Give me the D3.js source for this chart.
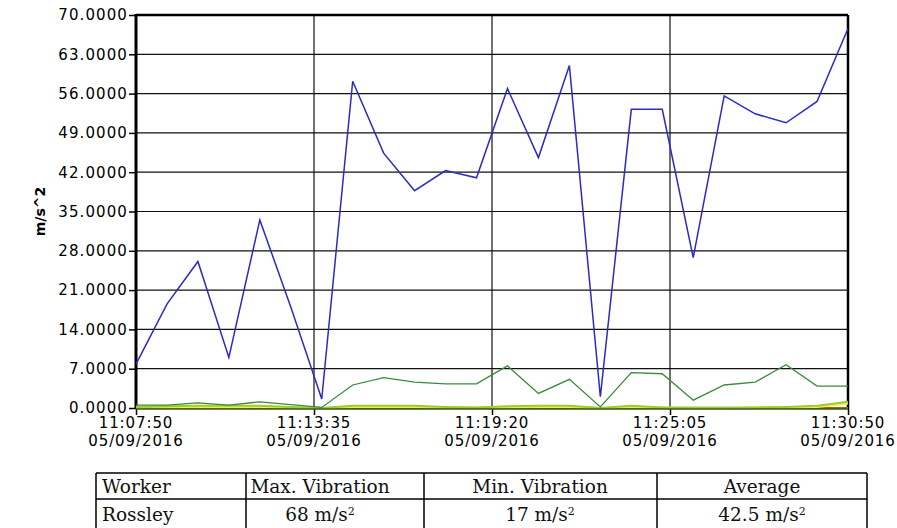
<!DOCTYPE html>
<html>
<head>
<meta charset="utf-8">
<script src="https://cdn.jsdelivr.net/npm/d3@7"></script>
<style>
  body { margin: 0; background: #fff; }
  svg { display: block; }
  .tick text { font-family: "DejaVu Sans", Verdana, sans-serif; }
  .cell { font-family: "DejaVu Serif", "Liberation Serif", serif; font-size: 18.5px; fill: #111; }
</style>
</head>
<body>
<script>
// sample times (one reading per minute)
var times = ["11:07:50","11:08:50","11:09:50","11:10:50","11:11:50","11:12:50",
  "11:13:50","11:14:50","11:15:50","11:16:50","11:17:50","11:18:50",
  "11:19:50","11:20:50","11:21:50","11:22:50","11:23:50","11:24:50",
  "11:25:50","11:26:50","11:27:50","11:28:50","11:29:50","11:30:50"];

var blueVals = [7.8, 18.5, 26.1, 9.0, 33.5, 18.0, 1.6, 58.2, 45.4, 38.7, 42.3, 41.0,
  56.9, 44.6, 61.0, 2.0, 53.2, 53.2, 26.8, 55.6, 52.4, 50.8, 54.6, 67.6];
var greenVals = [0.5, 0.5, 0.9, 0.5, 1.1, 0.6, 0.1, 4.1, 5.4, 4.6, 4.3, 4.3,
  7.5, 2.6, 5.1, 0.2, 6.3, 6.1, 1.4, 4.1, 4.6, 7.7, 3.9, 3.9];
var limeVals = [0.2, 0.3, 0.4, 0.4, 0.4, 0.2, 0.0, 0.4, 0.4, 0.4, 0.2, 0.1,
  0.3, 0.4, 0.4, 0.0, 0.4, 0.1, 0.1, 0.1, 0.1, 0.2, 0.4, 1.1];
var yellowVals = [0.1, 0.1, 0.2, 0.1, 0.2, 0.1, 0.0, 0.2, 0.2, 0.2, 0.1, 0.1,
  0.1, 0.2, 0.2, 0.0, 0.2, 0.1, 0.0, 0.0, 0.1, 0.1, 0.2, 0.8];
var brownVals = [0, 0, 0, 0, 0, 0, 0, 0, 0, 0, 0, 0,
  0, 0, 0, 0, 0, 0, 0, 0, 0, 0, 0, 0];

var xTickTimes = ["11:07:50", "11:13:35", "11:19:20", "11:25:05", "11:30:50"];
var xTickDate = "05/09/2016";
var yTicks = [0, 7, 14, 21, 28, 35, 42, 49, 56, 63, 70];

var tableHead = ["Worker", "Max. Vibration", "Min. Vibration", "Average"];
var tableRow = [["Rossley", ""], ["68", " m/s"], ["17", " m/s"], ["42.5", " m/s"]];

var width = 897, height = 528;
var margin = { top: 15, right: 49, bottom: 120, left: 136 };

var parse = d3.timeParse("%H:%M:%S");

var svg = d3.select("body").append("svg")
  .attr("width", width)
  .attr("height", height);

var x = d3.scaleTime()
  .domain([parse(times[0]), parse(times[times.length - 1])])
  .range([margin.left, width - margin.right]);

var y = d3.scaleLinear()
  .domain([0, 70])
  .range([height - margin.bottom, margin.top]);

var x0 = x.range()[0], x1 = x.range()[1];
var y0 = y.range()[0], y1 = y.range()[1];

// grid
svg.append("g").selectAll("line")
  .data(yTicks).enter().append("line")
  .attr("x1", x0).attr("x2", x1)
  .attr("y1", d => y(d)).attr("y2", d => y(d))
  .attr("stroke", "#111").attr("stroke-width", 1.2);

svg.append("g").selectAll("line")
  .data(xTickTimes).enter().append("line")
  .attr("x1", d => x(parse(d))).attr("x2", d => x(parse(d)))
  .attr("y1", y0).attr("y2", y1)
  .attr("stroke", "#111").attr("stroke-width", 1.2);

// axes
var yAxis = d3.axisLeft(y)
  .tickValues(yTicks)
  .tickFormat(d3.format(".4f"))
  .tickSize(7)
  .tickPadding(1);

var gy = svg.append("g")
  .attr("transform", "translate(" + x0 + ",0)")
  .call(yAxis);
gy.select(".domain").remove();
gy.selectAll(".tick line").attr("stroke", "#000").attr("stroke-width", 1.5);
gy.selectAll(".tick text")
  .style("font-size", "15px")
  .style("letter-spacing", "1.1px")
  .attr("fill", "#000");

var xAxis = d3.axisBottom(x)
  .tickValues(xTickTimes.map(parse))
  .tickFormat("")
  .tickSize(7);

var gx = svg.append("g")
  .attr("transform", "translate(0," + y0 + ")")
  .call(xAxis);
gx.select(".domain").remove();
gx.selectAll(".tick line").attr("stroke", "#000").attr("stroke-width", 1.5);

var labels = svg.append("g").selectAll("text")
  .data(xTickTimes).enter().append("text")
  .attr("x", d => x(parse(d)))
  .attr("y", y0 + 20)
  .attr("text-anchor", "middle")
  .style("font-family", "DejaVu Sans, Verdana, sans-serif")
  .style("font-size", "15px")
  .style("letter-spacing", "0.9px")
  .attr("fill", "#000");
labels.append("tspan").text(d => d);
labels.append("tspan").attr("x", d => x(parse(d))).attr("dy", 18).text(xTickDate);

// frame
svg.append("line").attr("x1", x0).attr("x2", x1).attr("y1", y1).attr("y2", y1)
  .attr("stroke", "#000").attr("stroke-width", 2.5);
svg.append("line").attr("x1", x1).attr("x2", x1).attr("y1", y1).attr("y2", y0)
  .attr("stroke", "#000").attr("stroke-width", 2.5);
svg.append("line").attr("x1", x0).attr("x2", x0).attr("y1", y1 - 1).attr("y2", y0 + 1)
  .attr("stroke", "#000").attr("stroke-width", 3);

// series
var series = [
  { vals: brownVals, color: "#b0600a", w: 2 },
  { vals: yellowVals, color: "#eeee50", w: 2 },
  { vals: limeVals, color: "#9acd32", w: 2 },
  { vals: greenVals, color: "#3a8a3a", w: 1.3 },
  { vals: blueVals, color: "#2a2ac4", w: 1.5 }
];

var line = d3.line()
  .x((d, i) => x(parse(times[i])))
  .y(d => y(d));

svg.append("g").selectAll("path")
  .data(series).enter().append("path")
  .attr("d", d => line(d.vals))
  .attr("fill", "none")
  .attr("stroke", d => d.color)
  .attr("stroke-width", d => d.w);

// bottom axis line
svg.append("line").attr("x1", x0).attr("x2", x1).attr("y1", y0 + 1).attr("y2", y0 + 1)
  .attr("stroke", "#3a5a10").attr("stroke-width", 1.5);

// y title
svg.append("text")
  .attr("transform", "translate(45," + ((y0 + y1) / 2) + ") rotate(-90)")
  .attr("text-anchor", "middle")
  .style("font-family", "DejaVu Sans, Verdana, sans-serif")
  .style("font-size", "14px")
  .style("font-weight", "bold")
  .text("m/s^2");

// table
var colEdges = [96, 246, 424, 657, 867];
var rowEdges = [473, 499, 530];
var textX = [102, 320, 540, 762];

var tbl = svg.append("g");
tbl.selectAll("line.v").data(colEdges).enter().append("line")
  .attr("x1", d => d).attr("x2", d => d)
  .attr("y1", rowEdges[0]).attr("y2", rowEdges[2])
  .attr("stroke", "#000").attr("stroke-width", 1.5);
tbl.selectAll("line.h").data(rowEdges).enter().append("line")
  .attr("x1", colEdges[0]).attr("x2", colEdges[colEdges.length - 1])
  .attr("y1", d => d).attr("y2", d => d)
  .attr("stroke", "#000").attr("stroke-width", 1.5);

tbl.selectAll("text.h").data(tableHead).enter().append("text")
  .attr("class", "cell")
  .attr("x", (d, i) => textX[i])
  .attr("y", 493)
  .attr("text-anchor", (d, i) => i === 0 ? "start" : "middle")
  .text(d => d);

var rowText = tbl.selectAll("text.r").data(tableRow).enter().append("text")
  .attr("class", "cell")
  .attr("x", (d, i) => textX[i])
  .attr("y", 521)
  .attr("text-anchor", (d, i) => i === 0 ? "start" : "middle");
rowText.append("tspan").text(d => d[0]);
rowText.append("tspan").text(d => d[1]);
rowText.filter((d, i) => i > 0).append("tspan")
  .attr("dy", -6).style("font-size", "11px").text("2");
</script>
</body>
</html>
